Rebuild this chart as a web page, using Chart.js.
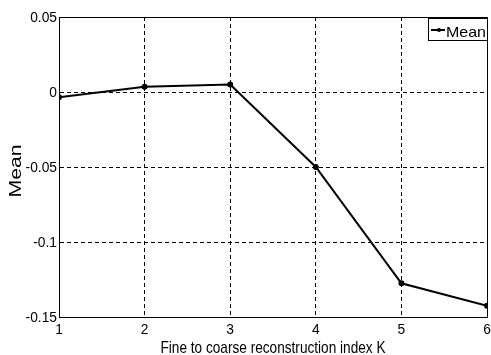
<!DOCTYPE html>
<html>
<head>
<meta charset="utf-8">
<script src="https://cdn.jsdelivr.net/npm/chart.js@4"></script>
<style>
  html, body { margin: 0; padding: 0; background: #fff; }
  #wrap { width: 491px; height: 355px; }
</style>
</head>
<body>
<div id="wrap"><canvas id="chart" width="491" height="355"></canvas></div>
<script>
const kValues = [1, 2, 3, 4, 5, 6];
const meanValues = [-0.0035, 0.0035, 0.005, -0.05, -0.1275, -0.1425];
const yTicks = [0.05, 0, -0.05, -0.1, -0.15];
const yTickLabels = ['0.05', '0', '-0.05', '-0.1', '-0.15'];
const xTitle = 'Fine to coarse reconstruction index K';
const yTitle = 'Mean';

const FONT = '"Liberation Sans", Arial, sans-serif';

// the original text is narrow and tall, so draw it squeezed
function drawText(ctx, str, x, y, o) {
    ctx.save();
    ctx.font = o.size + 'px ' + FONT;
    const w = ctx.measureText(str).width;
    const sx = o.width ? o.width / w : (o.sx || 1);
    ctx.translate(x, y);
    if (o.rot) ctx.rotate(o.rot);
    ctx.scale(sx, 1);
    ctx.fillStyle = '#000';
    ctx.textAlign = o.align || 'center';
    ctx.textBaseline = o.baseline || 'middle';
    ctx.fillText(str, 0, 0);
    ctx.restore();
}

// frame round the plot area, like the matlab box
const framePlugin = {
    id: 'frame',
    afterDraw(chart) {
        const a = chart.chartArea;
        const ctx = chart.ctx;
        const l = Math.floor(a.left) + 0.5, r = Math.floor(a.right) + 0.5;
        const t = Math.floor(a.top) + 0.5, b = Math.floor(a.bottom) + 0.5;
        ctx.save();
        ctx.strokeStyle = '#000';
        ctx.lineWidth = 1;
        ctx.strokeRect(l, t, r - l, b - t);
        ctx.restore();
    }
};

// tick labels and axis titles
const labelsPlugin = {
    id: 'labels',
    afterDraw(chart) {
        const ctx = chart.ctx;
        const xs = chart.scales.x, ys = chart.scales.y;
        yTicks.forEach((v, i) => {
            drawText(ctx, yTickLabels[i], 57, ys.getPixelForValue(v) + 1,
                {size: 15, sx: 0.92, align: 'right'});
        });
        kValues.forEach(v => {
            drawText(ctx, String(v), xs.getPixelForValue(v), 330, {size: 15, sx: 0.92});
        });
        drawText(ctx, xTitle, (xs.left + xs.right) / 2, 353,
            {size: 17, width: 225, baseline: 'alphabetic'});
        drawText(ctx, yTitle, 16, 171, {size: 17, width: 53, rot: -Math.PI / 2});
    }
};

// boxed legend in the top right corner
const legendBox = {
    id: 'legendBox',
    afterDraw(chart) {
        const a = chart.chartArea;
        const ctx = chart.ctx;
        const ds = chart.data.datasets[0];
        const w = 59, h = 22;
        const x = Math.floor(a.right) - w, y = Math.floor(a.top) + 1;
        ctx.save();
        ctx.fillStyle = '#fff';
        ctx.fillRect(x, y, w, h);
        ctx.strokeStyle = '#000';
        ctx.lineWidth = 1;
        ctx.strokeRect(x + 0.5, y + 0.5, w, h);
        const cy = y + 12;
        ctx.lineWidth = 2;
        ctx.beginPath();
        ctx.moveTo(x + 3, cy);
        ctx.lineTo(x + 17, cy);
        ctx.stroke();
        ctx.fillStyle = '#000';
        ctx.beginPath();
        ctx.arc(x + 11, cy, 2, 0, Math.PI * 2);
        ctx.fill();
        ctx.restore();
        drawText(ctx, ds.label, x + 18, y + 18.5,
            {size: 15, width: 40, align: 'left', baseline: 'alphabetic'});
    }
};

new Chart(document.getElementById('chart'), {
    type: 'line',
    data: {
        datasets: [{
            label: 'Mean',
            data: kValues.map((k, i) => ({x: k, y: meanValues[i]})),
            borderColor: '#000',
            backgroundColor: '#000',
            borderWidth: 2,
            pointRadius: 2,
            pointHoverRadius: 2,
            tension: 0
        }]
    },
    options: {
        responsive: false,
        animation: false,
        layout: { padding: { top: 17, right: 3, left: 0, bottom: 0 } },
        plugins: { legend: { display: false }, tooltip: { enabled: false } },
        scales: {
            x: {
                type: 'linear',
                min: 1, max: 6,
                afterBuildTicks(scale) { scale.ticks = kValues.map(v => ({value: v})); },
                afterFit(scale) { scale.height = 38; scale.paddingLeft = 0; scale.paddingRight = 0; },
                grid: { color: '#000', lineWidth: 1, drawTicks: false },
                border: { display: true, color: '#000', dash: [4, 3] },
                ticks: { display: false }
            },
            y: {
                type: 'linear',
                min: -0.15, max: 0.05,
                afterBuildTicks(scale) { scale.ticks = yTicks.map(v => ({value: v})); },
                afterFit(scale) { scale.width = 59; scale.paddingTop = 0; scale.paddingBottom = 0; },
                grid: { color: '#000', lineWidth: 1, drawTicks: false },
                border: { display: true, color: '#000', dash: [4, 3] },
                ticks: { display: false }
            }
        }
    },
    plugins: [framePlugin, legendBox, labelsPlugin]
});
</script>
</body>
</html>
